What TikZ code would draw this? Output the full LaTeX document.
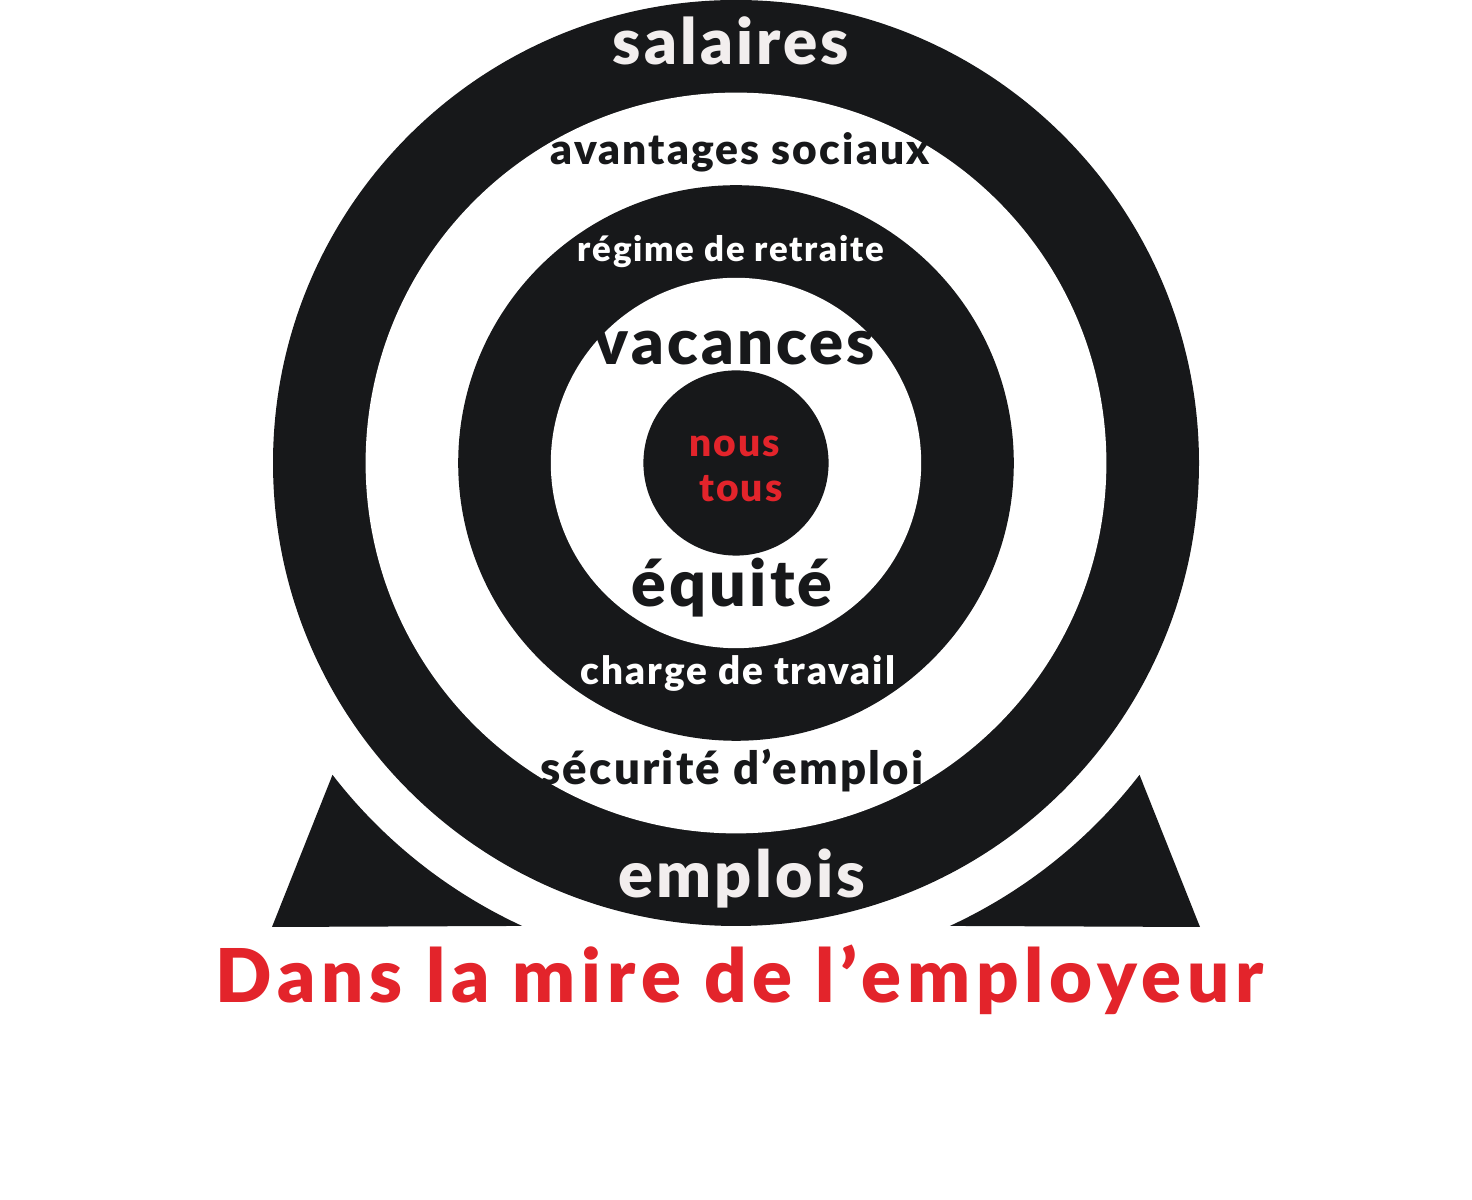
\documentclass[tikz,border=0pt]{standalone}
\usepackage{fontspec}
\newfontfamily\targetfont{Lato Black}[LetterSpace=5]
\newfontfamily\titlefont{Lato Black}[LetterSpace=8]
\usepackage{tikz}
\definecolor{ink}{HTML}{17181A}
\definecolor{pale}{HTML}{F2EEEE}
\definecolor{mire}{HTML}{E3242B}
\tikzstyle{ringtext} = [anchor=base,inner sep=0pt]
\tikzstyle{centre} = [ringtext,mire,font=\targetfont\fontsize{22.2}{24}\selectfont]

\begin{document}
\begin{tikzpicture}[x=0.02cm,y=0.02cm]
	\def \cx {736}
	\def \cy {737}
	\def \w {92.6}
	\def \rs {510}
	\useasboundingbox (0,0) rectangle (1472,1200);
	\fill [white] (0,0) rectangle (1472,1200);
	\coordinate (c) at (\cx,\cy);
	% target rings
	\foreach \k/\col in {5/ink,4/white,3/ink,2/white,1/ink} {
		\fill [\col] (c) circle [radius=\k*\w];
	}
	% stand
	\fill [ink] (c) ++(217.7:\rs) arc [start angle=217.7, end angle=245.2, radius=\rs] -- (272,273) -- cycle;
	\fill [ink] (c) ++(322.3:\rs) arc [start angle=322.3, end angle=294.8, radius=\rs] -- (1200,273) -- cycle;
	% labels
	\node (salaires) at (731,1135) [ringtext,pale,font=\targetfont\fontsize{36.2}{38}\selectfont] {salaires};
	\node (avantages) at (740,1035) [ringtext,ink,font=\targetfont\fontsize{24.2}{26}\selectfont] {avantages sociaux};
	\node (retraite) at (731,938) [ringtext,white,font=\targetfont\fontsize{19.8}{22}\selectfont] {régime de retraite};
	\node (vacances) at (735,835) [ringtext,ink,font=\targetfont\fontsize{36}{38}\selectfont] {vacances};
	\node (nous) at (735,743) [centre] {nous};
	\node (tous) at (741,698) [centre] {tous};
	\node (equite) at (732,593) [ringtext,ink,font=\targetfont\fontsize{36.7}{38}\selectfont] {équité};
	\node (charge) at (738,515) [ringtext,white,font=\targetfont\fontsize{22}{24}\selectfont] {charge de travail};
	\node (securite) at (732,415) [ringtext,ink,font=\targetfont\fontsize{25.9}{28}\selectfont] {sécurité d’emploi};
	\node (emplois) at (742,302) [ringtext,pale,font=\targetfont\fontsize{36.8}{38}\selectfont] {emplois};
	\node (titre) at (740,197) [ringtext,mire,font=\titlefont\fontsize{42.2}{44}\selectfont] {Dans la mire de l’employeur};
\end{tikzpicture}
\end{document}
